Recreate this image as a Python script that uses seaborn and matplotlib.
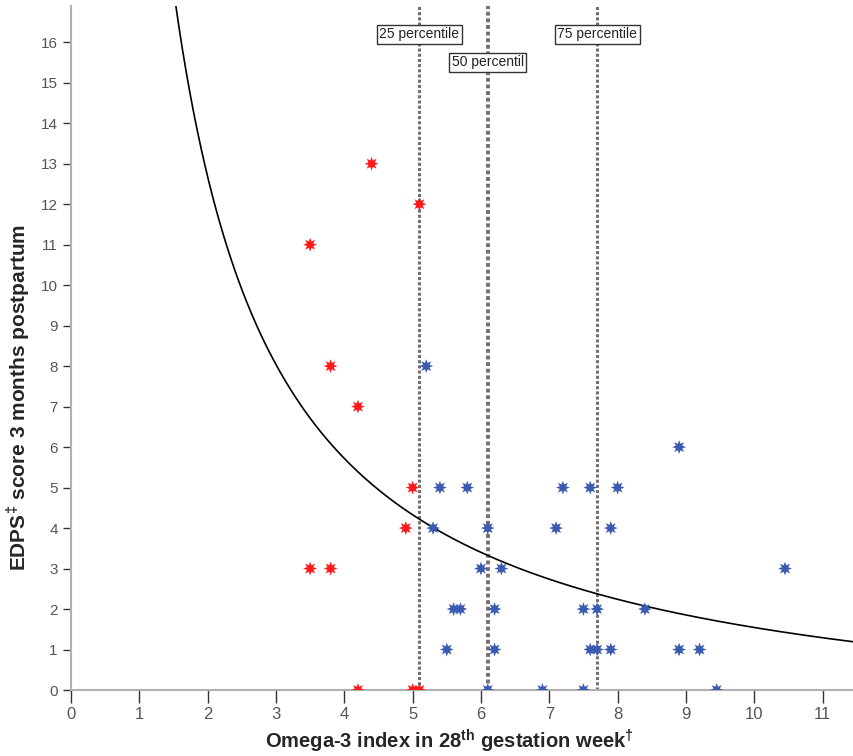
import matplotlib
matplotlib.use('Agg')
import matplotlib.pyplot as plt
import pandas as pd
import seaborn as sns
import numpy as np

# omega-3 index below 25th percentile (red)
low_x = [3.5, 4.4, 5.1, 3.8, 4.2, 5.0, 4.9, 3.5, 3.8, 4.2, 5.0, 5.1]
low_y = [11, 13, 12, 8, 7, 5, 4, 3, 3, 0, 0, 0]

# everyone else (blue)
high_x = [5.2, 5.4, 5.8, 5.3, 6.1, 6.0, 6.3, 5.6, 5.7, 6.2, 5.5, 6.2, 6.1,
          8.9, 7.2, 7.6, 8.0, 7.1, 7.9, 10.45, 7.5, 7.7, 8.4, 7.6, 7.7,
          7.9, 8.9, 9.2, 6.9, 7.5, 9.45]
high_y = [8, 5, 5, 4, 4, 3, 3, 2, 2, 2, 1, 1, 0,
          6, 5, 5, 5, 4, 4, 3, 2, 2, 2, 1, 1,
          1, 1, 1, 0, 0, 0]

percentiles = [5.1, 6.1, 7.7]
pct_labels = ['25 percentile', '50 percentil', '75 percentile']
label_y = [16.2, 15.5, 16.2]

# inverse model: y = b0 + b1 / x
b0 = -1.24
b1 = 27.84


def main():
	df = pd.DataFrame({
		'omega': low_x + high_x,
		'edps': low_y + high_y,
		'group': ['low'] * len(low_x) + ['high'] * len(high_x),
	})

	sns.set_style('white')
	plt.rcParams['font.family'] = ['Liberation Sans', 'DejaVu Sans']
	plt.rcParams['mathtext.fontset'] = 'custom'
	plt.rcParams['mathtext.bf'] = 'Liberation Sans:bold'
	plt.rcParams['mathtext.rm'] = 'Liberation Sans'

	fig = plt.figure(figsize=(8.54, 7.56), dpi=100)
	ax = fig.add_axes([0.0831, 0.0873, 0.9169, 0.905])

	# percentile lines
	for xv, lw in zip(percentiles, [2.2, 2.8, 2.2]):
		ax.axvline(xv, color='#707070', lw=lw, ls=(0, (1, 0.7)), zorder=1)

	# fitted curve
	xs = np.linspace(0.5, 11.5, 400)
	ax.plot(xs, b0 + b1 / xs, color='black', lw=1.2, zorder=2)

	sns.scatterplot(data=df, x='omega', y='edps', hue='group',
		palette={'low': '#ff1a1a', 'high': '#3a5bb0'},
		marker=(8, 1, 0), s=100, linewidth=0, legend=False, ax=ax, zorder=3)

	for xv, txt, yv in zip(percentiles, pct_labels, label_y):
		ax.text(xv, yv, txt, ha='center', va='center', fontsize=10,
			color='#222222',
			bbox=dict(boxstyle='square,pad=0.18', fc='white', ec='#333333', lw=1),
			zorder=4)

	ax.set_xlim(0, 11.46)
	ax.set_ylim(0, 16.9)
	ax.set_xticks(range(0, 12))
	ax.set_yticks(range(0, 17))

	for s in ['top', 'right']:
		ax.spines[s].set_visible(False)
	for s in ['left', 'bottom']:
		ax.spines[s].set_color('#b0b0b0')
		ax.spines[s].set_linewidth(1.5)

	ax.tick_params(axis='x', direction='out', length=9, width=1, color='#333333',
		labelsize=12, labelcolor='#555555', bottom=True)
	ax.tick_params(axis='y', direction='out', length=6, width=1, color='#333333',
		labelsize=11, labelcolor='#555555', left=True)

	ax.set_xlabel(r'Omega-3 index in 28$^{\mathbf{th}}$ gestation week$^{\mathbf{\dagger}}$',
		fontsize=14.5, fontweight='bold')
	ax.set_ylabel(r'EDPS$^{\mathbf{\ddagger}}$ score 3 months postpartum',
		fontsize=15, fontweight='bold')
	ax.xaxis.set_label_coords(0.483, -0.055)
	ax.yaxis.set_label_coords(-0.05, 0.427)

	plt.savefig('out.png', dpi=100)


if __name__ == '__main__':
	main()
